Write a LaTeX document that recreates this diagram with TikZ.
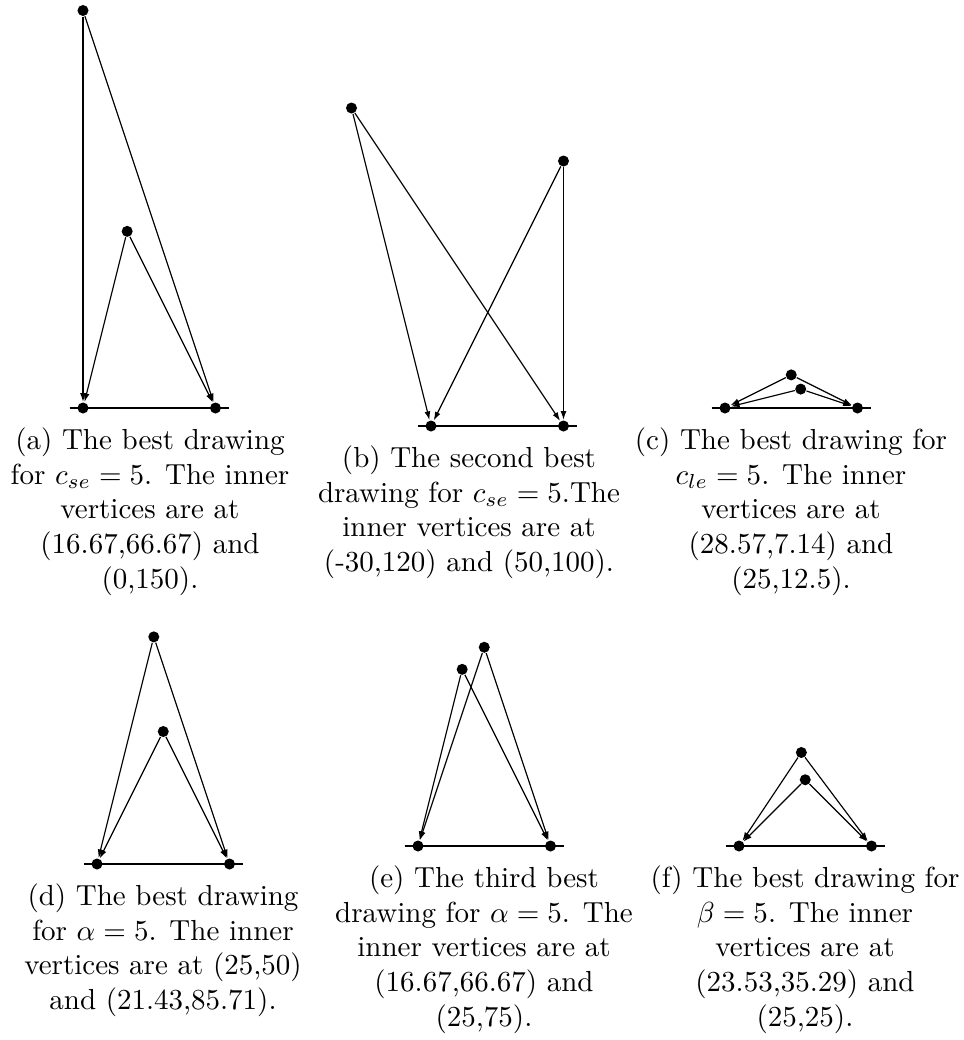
\documentclass[tikz,border=0pt]{standalone}
\usepackage{tikz}
\usetikzlibrary{arrows.meta}

\begin{document}
\begin{tikzpicture}[x=0.3448pt, y=0.3448pt,
        vtx/.style={circle, fill=black, inner sep=0pt, minimum size=3.8pt},
        darc/.style={-{Latex[length=3pt,width=2pt]}},
        captext/.style={align=center, anchor=north, inner sep=0pt}]
    \useasboundingbox (0,0) rectangle (964,-1040);

    \begin{scope}[shift={(83,-408)}, scale=2.65]
        \coordinate (al) at (-5,0);
        \coordinate (ar) at (55,0);
        \draw (al) -- (ar);
        \node[vtx] (a1) at (0,0) {};
        \node[vtx] (a2) at (50,0) {};
        \node[vtx] (a3) at (16.67,66.67) {};
        \node[vtx] (a4) at (0,150) {};
        \draw[darc] (a4) -- (a1);
        \draw[darc] (a4) -- (a2);
        \draw[darc] (a3) -- (a1);
        \draw[darc] (a3) -- (a2);
    \end{scope}

    \begin{scope}[shift={(431,-426)}, scale=2.65]
        \coordinate (bl) at (-5,0);
        \coordinate (br) at (55,0);
        \draw (bl) -- (br);
        \node[vtx] (b1) at (0,0) {};
        \node[vtx] (b2) at (50,0) {};
        \node[vtx] (b3) at (-30,120) {};
        \node[vtx] (b4) at (50,100) {};
        \draw[darc] (b3) -- (b1);
        \draw[darc] (b3) -- (b2);
        \draw[darc] (b4) -- (b1);
        \draw[darc] (b4) -- (b2);
    \end{scope}

    \begin{scope}[shift={(725,-408)}, scale=2.65]
        \coordinate (cl) at (-5,0);
        \coordinate (cr) at (55,0);
        \draw (cl) -- (cr);
        \node[vtx] (c1) at (0,0) {};
        \node[vtx] (c2) at (50,0) {};
        \node[vtx] (c3) at (28.57,7.14) {};
        \node[vtx] (c4) at (25,12.5) {};
        \draw[darc] (c3) -- (c1);
        \draw[darc] (c3) -- (c2);
        \draw[darc] (c4) -- (c1);
        \draw[darc] (c4) -- (c2);
    \end{scope}

    \begin{scope}[shift={(97,-864)}, scale=2.65]
        \coordinate (dl) at (-5,0);
        \coordinate (dr) at (55,0);
        \draw (dl) -- (dr);
        \node[vtx] (d1) at (0,0) {};
        \node[vtx] (d2) at (50,0) {};
        \node[vtx] (d3) at (25,50) {};
        \node[vtx] (d4) at (21.43,85.71) {};
        \draw[darc] (d3) -- (d1);
        \draw[darc] (d3) -- (d2);
        \draw[darc] (d4) -- (d1);
        \draw[darc] (d4) -- (d2);
    \end{scope}

    \begin{scope}[shift={(418,-846)}, scale=2.65]
        \coordinate (el) at (-5,0);
        \coordinate (er) at (55,0);
        \draw (el) -- (er);
        \node[vtx] (e1) at (0,0) {};
        \node[vtx] (e2) at (50,0) {};
        \node[vtx] (e3) at (16.67,66.67) {};
        \node[vtx] (e4) at (25,75) {};
        \draw[darc] (e3) -- (e1);
        \draw[darc] (e3) -- (e2);
        \draw[darc] (e4) -- (e1);
        \draw[darc] (e4) -- (e2);
    \end{scope}

    \begin{scope}[shift={(739,-846)}, scale=2.65]
        \coordinate (fl) at (-5,0);
        \coordinate (fr) at (55,0);
        \draw (fl) -- (fr);
        \node[vtx] (f1) at (0,0) {};
        \node[vtx] (f2) at (50,0) {};
        \node[vtx] (f3) at (23.53,35.29) {};
        \node[vtx] (f4) at (25,25) {};
        \draw[darc] (f3) -- (f1);
        \draw[darc] (f3) -- (f2);
        \draw[darc] (f4) -- (f1);
        \draw[darc] (f4) -- (f2);
    \end{scope}

    \node[captext] (capa) at (150,-427) {(a) The best drawing\\for $c_{se}=5$. The inner\\vertices are at\\(16.67,66.67) and\\(0,150).};
    \node[captext] (capb) at (469,-445) {(b) The second best\\drawing for $c_{se}=5$.The\\inner vertices are at\\(-30,120) and (50,100).};
    \node[captext] (capc) at (791,-427) {(c) The best drawing for\\$c_{le}=5$. The inner\\vertices are at\\(28.57,7.14) and\\(25,12.5).};
    \node[captext] (capd) at (163,-883) {(d) The best drawing\\for $\alpha=5$. The inner\\vertices are at (25,50)\\and (21.43,85.71).};
    \node[captext] (cape) at (484,-865) {(e) The third best\\drawing for $\alpha=5$. The\\inner vertices are at\\(16.67,66.67) and\\(25,75).};
    \node[captext] (capf) at (805,-865) {(f) The best drawing for\\$\beta=5$. The inner\\vertices are at\\(23.53,35.29) and\\(25,25).};
\end{tikzpicture}
\end{document}
